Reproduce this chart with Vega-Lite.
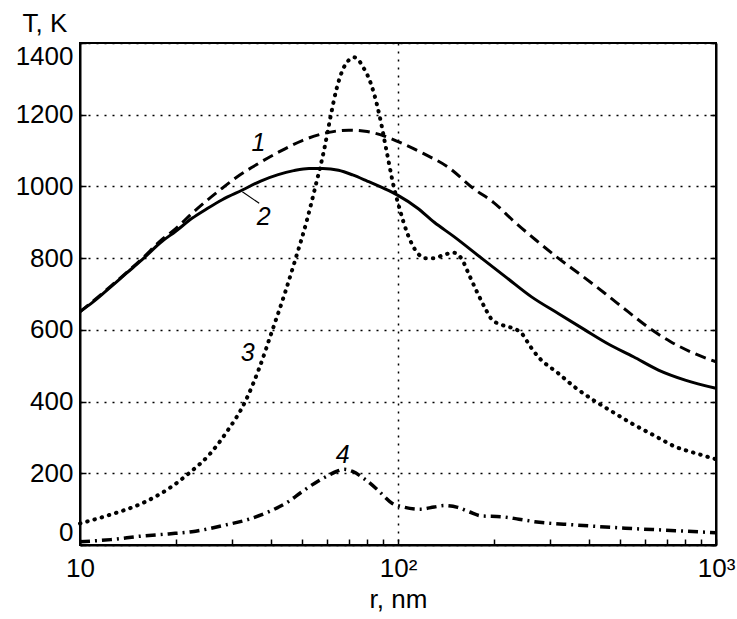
{
  "$schema": "https://vega.github.io/schema/vega-lite/v6.json",
  "autosize": {"type": "none"},
  "width": 636,
  "height": 502,
  "padding": {"left": 80, "top": 43, "right": 21, "bottom": 74},
  "background": "white",
  "config": {
    "font": "Liberation Sans",
    "view": {"stroke": "black", "strokeWidth": 2},
    "axis": {"domainColor": "black", "domainWidth": 2, "tickColor": "black", "tickWidth": 1.5, "labelColor": "black", "titleColor": "black", "labelFont": "Liberation Sans", "titleFont": "Liberation Sans"}
  },
  "datasets": {
    "c1": [
      {"r": 10, "T": 650}, {"r": 12.5, "T": 722}, {"r": 15.65, "T": 798}, {"r": 18, "T": 850}, {"r": 20, "T": 882}, {"r": 22.5, "T": 925}, {"r": 25, "T": 960}, {"r": 28, "T": 995}, {"r": 31, "T": 1025}, {"r": 35, "T": 1055}, {"r": 42, "T": 1095}, {"r": 50, "T": 1128}, {"r": 60, "T": 1150}, {"r": 70, "T": 1157}, {"r": 80, "T": 1153}, {"r": 91, "T": 1140}, {"r": 100, "T": 1125}, {"r": 120, "T": 1092}, {"r": 143, "T": 1055}, {"r": 174, "T": 992}, {"r": 200, "T": 955}, {"r": 230, "T": 905}, {"r": 270, "T": 852}, {"r": 319, "T": 800}, {"r": 380, "T": 750}, {"r": 450, "T": 700}, {"r": 530, "T": 650}, {"r": 628, "T": 600}, {"r": 720, "T": 567}, {"r": 850, "T": 535}, {"r": 1000, "T": 511}
    ],
    "c2": [
      {"r": 10, "T": 651}, {"r": 11, "T": 678}, {"r": 12.5, "T": 720}, {"r": 14, "T": 758}, {"r": 15.65, "T": 795}, {"r": 18, "T": 845}, {"r": 20, "T": 875}, {"r": 22.5, "T": 911}, {"r": 25, "T": 937}, {"r": 28, "T": 963}, {"r": 32.4, "T": 990}, {"r": 37, "T": 1015}, {"r": 42, "T": 1033}, {"r": 47, "T": 1044}, {"r": 52.5, "T": 1050}, {"r": 58, "T": 1050}, {"r": 65, "T": 1045}, {"r": 72, "T": 1032}, {"r": 80, "T": 1015}, {"r": 90, "T": 995}, {"r": 100, "T": 975}, {"r": 115, "T": 940}, {"r": 130, "T": 900}, {"r": 150, "T": 860}, {"r": 183, "T": 800}, {"r": 220, "T": 745}, {"r": 263, "T": 692}, {"r": 320, "T": 645}, {"r": 387, "T": 600}, {"r": 460, "T": 560}, {"r": 550, "T": 525}, {"r": 659, "T": 488}, {"r": 800, "T": 460}, {"r": 1000, "T": 437}
    ],
    "c3": [
      {"r": 10, "T": 60}, {"r": 12.5, "T": 85}, {"r": 15.65, "T": 116}, {"r": 19, "T": 157}, {"r": 22, "T": 200}, {"r": 25.5, "T": 252}, {"r": 28.7, "T": 311}, {"r": 33.2, "T": 403}, {"r": 36.5, "T": 490}, {"r": 40.3, "T": 600}, {"r": 44, "T": 700}, {"r": 47.7, "T": 800}, {"r": 51.5, "T": 900}, {"r": 55, "T": 1000}, {"r": 58.5, "T": 1100}, {"r": 61.5, "T": 1199}, {"r": 64, "T": 1270}, {"r": 67, "T": 1325}, {"r": 70, "T": 1352}, {"r": 72.8, "T": 1360}, {"r": 75.5, "T": 1350}, {"r": 78, "T": 1330}, {"r": 80.2, "T": 1310}, {"r": 84, "T": 1260}, {"r": 87.4, "T": 1199}, {"r": 92, "T": 1100}, {"r": 97, "T": 999}, {"r": 101, "T": 940}, {"r": 107, "T": 869}, {"r": 115, "T": 815}, {"r": 122, "T": 800}, {"r": 130, "T": 800}, {"r": 140, "T": 810}, {"r": 150, "T": 815}, {"r": 158, "T": 800}, {"r": 168, "T": 750}, {"r": 178, "T": 702}, {"r": 188, "T": 660}, {"r": 196, "T": 632}, {"r": 210, "T": 615}, {"r": 222, "T": 609}, {"r": 245, "T": 590}, {"r": 260, "T": 555}, {"r": 276, "T": 525}, {"r": 319, "T": 479}, {"r": 360, "T": 440}, {"r": 410, "T": 405}, {"r": 475, "T": 370}, {"r": 543, "T": 339}, {"r": 640, "T": 305}, {"r": 745, "T": 274}, {"r": 870, "T": 255}, {"r": 1000, "T": 239}
    ],
    "c4": [
      {"r": 10, "T": 9}, {"r": 12.5, "T": 15}, {"r": 15.65, "T": 25}, {"r": 19, "T": 31}, {"r": 22.5, "T": 37}, {"r": 28.7, "T": 56}, {"r": 34, "T": 72}, {"r": 39.3, "T": 93}, {"r": 45, "T": 120}, {"r": 50, "T": 149}, {"r": 56, "T": 178}, {"r": 60.7, "T": 195}, {"r": 64, "T": 205}, {"r": 67.8, "T": 211}, {"r": 72, "T": 205}, {"r": 79.3, "T": 181}, {"r": 86, "T": 155}, {"r": 96, "T": 116}, {"r": 105, "T": 105}, {"r": 118, "T": 100}, {"r": 130, "T": 106}, {"r": 140, "T": 110}, {"r": 154, "T": 105}, {"r": 168, "T": 92}, {"r": 183, "T": 81}, {"r": 211, "T": 79}, {"r": 240, "T": 72}, {"r": 269, "T": 65}, {"r": 360, "T": 56}, {"r": 518, "T": 47}, {"r": 745, "T": 40}, {"r": 1000, "T": 34}
    ],
    "labels": [
      {"r": 36.4, "T": 1121, "label": "1"},
      {"r": 37.8, "T": 915, "label": "2"},
      {"r": 33.7, "T": 535, "label": "3"},
      {"r": 67, "T": 251, "label": "4"}
    ],
    "leader": [
      {"r": 32.4, "T": 985}, {"r": 36.6, "T": 953}
    ]
  },
  "resolve": {"axis": {"y": "independent", "x": "independent"}},
  "layer": [
    {
      "data": {"name": "c2"},
      "mark": {"type": "line", "color": "black", "strokeWidth": 3, "interpolate": "monotone"},
      "encoding": {
        "x": {"field": "r", "type": "quantitative", "scale": {"type": "log", "domain": [10, 1000], "nice": false},
          "axis": {"title": "r, nm", "values": [10, 20, 30, 40, 50, 60, 70, 80, 90, 100, 200, 300, 400, 500, 600, 700, 800, 900, 1000],
            "labelExpr": "datum.value == 10 ? '10' : datum.value == 100 ? '10²' : datum.value == 1000 ? '10³' : ''",
            "labelFontSize": 26, "labelPadding": 16, "tickSize": -6, "labelFlush": false, "labelOverlap": false,
            "grid": true, "gridColor": "black", "gridWidth": 1.5, "gridDash": [2, 6],
            "gridOpacity": {"condition": {"test": "datum.value == 100", "value": 1}, "value": 0},
            "titleFontSize": 26, "titleFontWeight": "normal", "titleBaseline": "alphabetic", "titleY": 62}},
        "y": {"field": "T", "type": "quantitative", "scale": {"domain": [0, 1400], "nice": false},
          "axis": {"title": "T, K", "values": [0, 200, 400, 600, 800, 1000, 1200, 1400], "format": "d",
            "labelFontSize": 26, "labelPadding": 13, "tickSize": -6, "labelFlush": true,
            "grid": true, "gridColor": "black", "gridWidth": 1.5, "gridDash": [2, 6],
            "titleFontSize": 26, "titleFontWeight": "normal", "titleAngle": 0, "titleAlign": "left", "titleBaseline": "alphabetic", "titleX": -58, "titleY": -12}}
      }
    },
    {
      "data": {"name": "c1"},
      "mark": {"type": "line", "color": "black", "strokeWidth": 3, "strokeDash": [11, 6], "interpolate": "monotone"},
      "encoding": {
        "x": {"field": "r", "type": "quantitative", "axis": null},
        "y": {"field": "T", "type": "quantitative",
          "axis": {"orient": "right", "title": null, "labels": false, "values": [0, 200, 400, 600, 800, 1000, 1200, 1400], "tickSize": -6, "grid": false}}
      }
    },
    {
      "data": {"name": "c3"},
      "mark": {"type": "line", "color": "black", "strokeWidth": 4, "strokeDash": [0.5, 7], "strokeCap": "round", "interpolate": "monotone"},
      "encoding": {
        "x": {"field": "r", "type": "quantitative", "axis": null},
        "y": {"field": "T", "type": "quantitative", "axis": null}
      }
    },
    {
      "data": {"name": "c4"},
      "mark": {"type": "line", "color": "black", "strokeWidth": 3.5, "strokeDash": [10, 5, 2, 5], "interpolate": "monotone"},
      "encoding": {
        "x": {"field": "r", "type": "quantitative", "axis": null},
        "y": {"field": "T", "type": "quantitative", "axis": null}
      }
    },
    {
      "data": {"name": "leader"},
      "mark": {"type": "line", "color": "black", "strokeWidth": 1.2},
      "encoding": {
        "x": {"field": "r", "type": "quantitative", "axis": null},
        "y": {"field": "T", "type": "quantitative", "axis": null}
      }
    },
    {
      "data": {"name": "labels"},
      "mark": {"type": "text", "font": "Liberation Sans", "fontStyle": "italic", "fontSize": 25, "color": "black", "align": "center", "baseline": "middle"},
      "encoding": {
        "x": {"field": "r", "type": "quantitative", "axis": null},
        "y": {"field": "T", "type": "quantitative", "axis": null},
        "text": {"field": "label"}
      }
    }
  ]
}
